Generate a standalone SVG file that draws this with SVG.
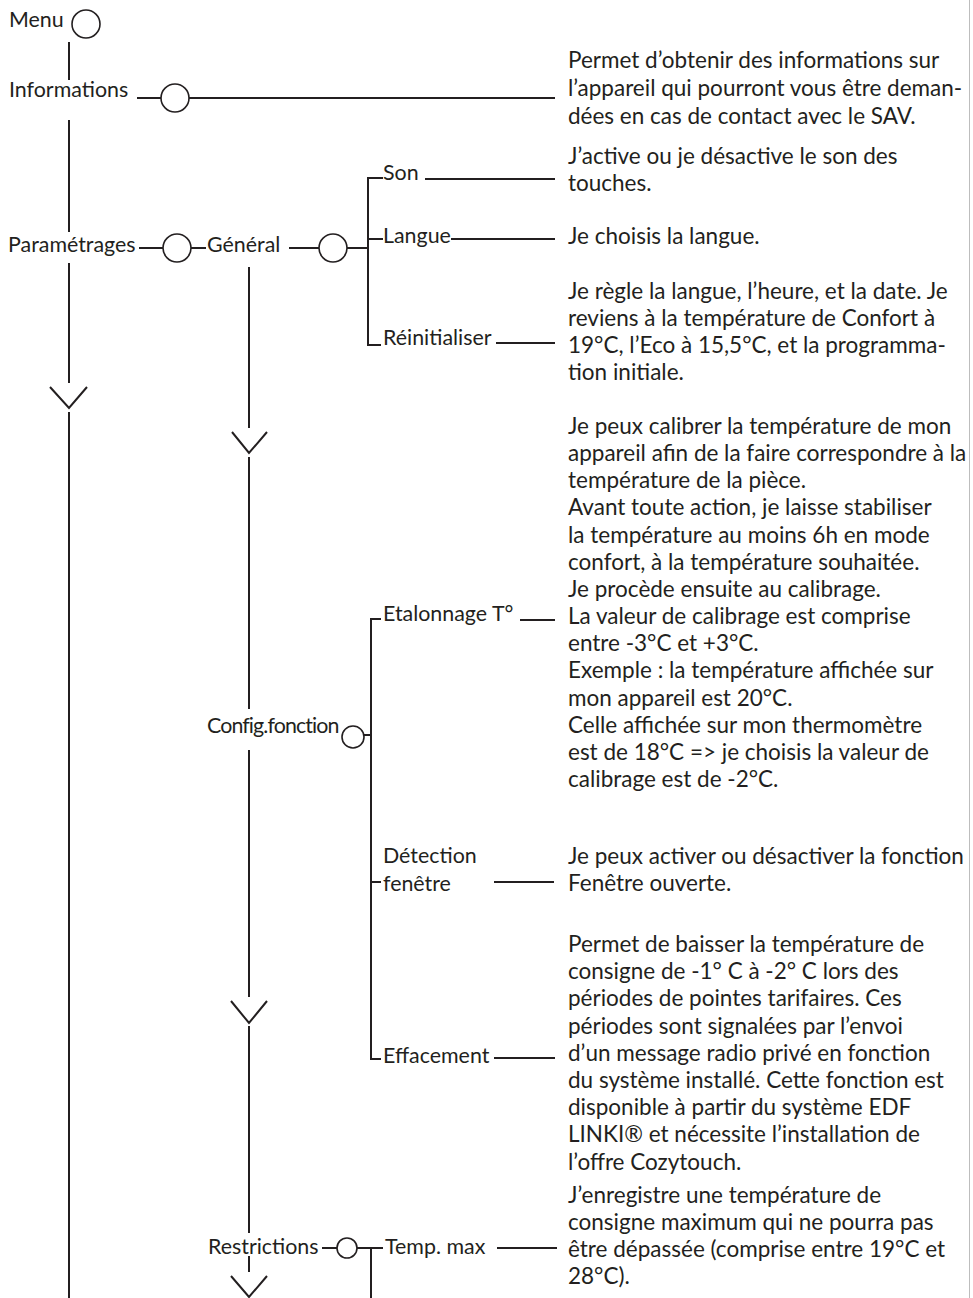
<svg xmlns="http://www.w3.org/2000/svg" width="973" height="1298" viewBox="0 0 973 1298">
<style>
text{font-family:Lato,"Noto Sans","Liberation Sans",sans-serif;font-size:21.4px;fill:#231f20}
text.d{font-size:22.5px}
.c{fill:#fff;stroke:#231f20;stroke-width:1.6}
.l{stroke:#231f20;stroke-width:2;fill:none;stroke-linecap:butt}
.cf{letter-spacing:-0.9px}
</style>
<rect width="973" height="1298" fill="#fff"/>
<line x1="969.5" y1="0" x2="969.5" y2="1298" stroke="#bdbdbd" stroke-width="1"/>
<g id="connectors" class="l">
<path d="M69 42V80M69 120V232M69 263V383M69 412V1298"/>
<path d="M50 387L69 408L87 387"/>
<path d="M137 98H161M189 98H555"/>
<path d="M139 248H163M191 248H206M289 248H319M347 248H368"/>
<path d="M383 178H368V345H381M368 239H383"/>
<path d="M425 179H555M451 239H555M496 343H555"/>
<path d="M249 267V428M249 457V709M249 750V997M249 1026V1233M249 1256V1272"/>
<path d="M232 432L249 453L267 432M231 1001L249 1023L267 1001M231 1276L249 1297L267 1276"/>
<path d="M364 735H371M381 619H371V1059H381M371 882H381"/>
<path d="M520 620H555M494 882H554M494 1058H555"/>
<path d="M322 1248H337M357 1248H383M371 1248V1298M497 1248H557"/>
</g>
<g id="menu"><text x="9" y="27">Menu</text><circle class="c" cx="86" cy="24" r="14"/></g>
<g id="informations"><text x="9" y="97">Informations</text><circle class="c" cx="175" cy="98" r="14"/>
<text class="d"><tspan x="568" y="68">Permet d’obtenir des informations sur</tspan><tspan x="568" y="96">l’appareil qui pourront vous être deman-</tspan><tspan x="568" y="124">dées en cas de contact avec le SAV.</tspan></text></g>
<g id="parametrages"><text x="8" y="252">Paramétrages</text><circle class="c" cx="177" cy="248" r="14"/></g>
<g id="general"><text x="207" y="252">Général</text><circle class="c" cx="333" cy="248" r="14"/></g>
<g id="son"><text x="383" y="180">Son</text>
<text class="d"><tspan x="568" y="164">J’active ou je désactive le son des</tspan><tspan x="568" y="191">touches.</tspan></text></g>
<g id="langue"><text x="383" y="243">Langue</text><text class="d" x="568" y="244">Je choisis la langue.</text></g>
<g id="reinitialiser"><text x="383" y="345">Réinitialiser</text>
<text class="d"><tspan x="568" y="299">Je règle la langue, l’heure, et la date. Je</tspan><tspan x="568" y="326">reviens à la température de Confort à</tspan><tspan x="568" y="353">19°C, l’Eco à 15,5°C, et la programma-</tspan><tspan x="568" y="380">tion initiale.</tspan></text></g>
<g id="config"><text class="cf" x="207" y="733">Config.fonction</text><circle class="c" cx="353" cy="737" r="11"/></g>
<g id="etalonnage"><text x="383" y="621">Etalonnage T°</text>
<text class="d"><tspan x="568" y="434">Je peux calibrer la température de mon</tspan><tspan x="568" y="461">appareil afin de la faire correspondre à la</tspan><tspan x="568" y="488">température de la pièce.</tspan><tspan x="568" y="515">Avant toute action, je laisse stabiliser</tspan><tspan x="568" y="543">la température au moins 6h en mode</tspan><tspan x="568" y="570">confort, à la température souhaitée.</tspan><tspan x="568" y="597">Je procède ensuite au calibrage.</tspan><tspan x="568" y="624">La valeur de calibrage est comprise</tspan><tspan x="568" y="651">entre -3°C et +3°C.</tspan><tspan x="568" y="678">Exemple : la température affichée sur</tspan><tspan x="568" y="706">mon appareil est 20°C.</tspan><tspan x="568" y="733">Celle affichée sur mon thermomètre</tspan><tspan x="568" y="760">est de 18°C =&gt; je choisis la valeur de</tspan><tspan x="568" y="787">calibrage est de -2°C.</tspan></text></g>
<g id="detection"><text><tspan x="383" y="863">Détection</tspan><tspan x="383" y="891">fenêtre</tspan></text>
<text class="d"><tspan x="568" y="864">Je peux activer ou désactiver la fonction</tspan><tspan x="568" y="891">Fenêtre ouverte.</tspan></text></g>
<g id="effacement"><text x="383" y="1063">Effacement</text>
<text class="d"><tspan x="568" y="952">Permet de baisser la température de</tspan><tspan x="568" y="979">consigne de -1° C à -2° C lors des</tspan><tspan x="568" y="1006">périodes de pointes tarifaires. Ces</tspan><tspan x="568" y="1034">périodes sont signalées par l’envoi</tspan><tspan x="568" y="1061">d’un message radio privé en fonction</tspan><tspan x="568" y="1088">du système installé. Cette fonction est</tspan><tspan x="568" y="1115">disponible à partir du système EDF</tspan><tspan x="568" y="1142">LINKI® et nécessite l’installation de</tspan><tspan x="568" y="1170">l’offre Cozytouch.</tspan></text></g>
<g id="restrictions"><text x="208" y="1254">Restrictions</text><circle class="c" cx="347" cy="1248" r="10"/></g>
<g id="tempmax"><text x="385" y="1254">Temp. max</text>
<text class="d"><tspan x="568" y="1203">J’enregistre une température de</tspan><tspan x="568" y="1230">consigne maximum qui ne pourra pas</tspan><tspan x="568" y="1257">être dépassée (comprise entre 19°C et</tspan><tspan x="568" y="1284">28°C).</tspan></text></g>
</svg>
